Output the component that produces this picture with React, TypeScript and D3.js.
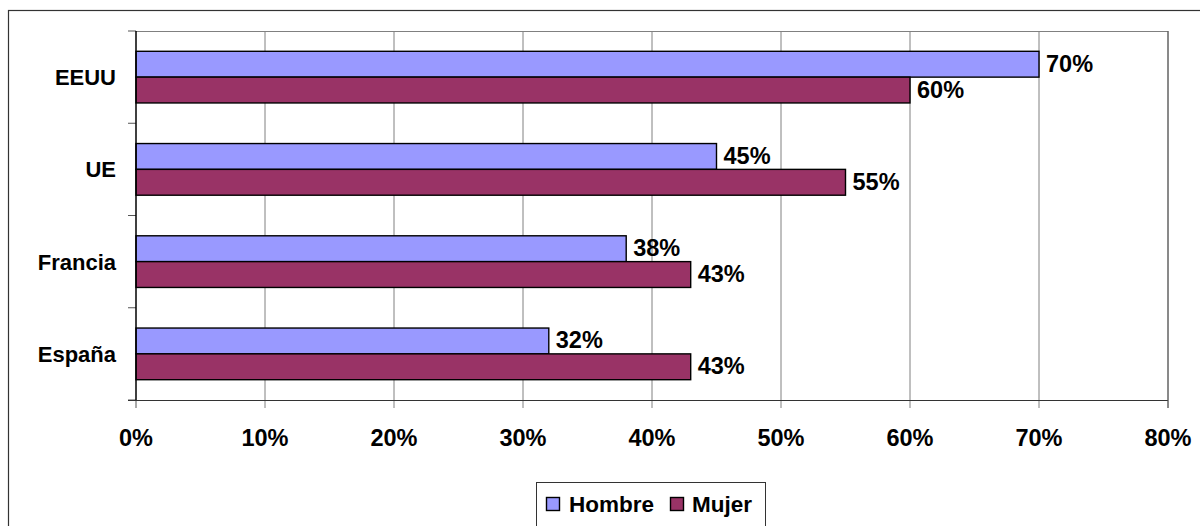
import React, { useEffect, useRef } from "react";
import * as d3 from "d3";

const categories = ["EEUU", "UE", "Francia", "España"];
const seriesNames = ["Hombre", "Mujer"];
const hombre = [70, 45, 38, 32];
const mujer = [60, 55, 43, 43];
const xTicks = [0, 10, 20, 30, 40, 50, 60, 70, 80];
const colors = ["#9999FF", "#993366"];

const W = 1200;
const H = 526;
const FONT = "'Liberation Sans', Arial, sans-serif";

export default function App() {
  const ref = useRef<SVGSVGElement>(null);
  useEffect(() => {
    const svg = d3.select(ref.current);
    svg.selectAll("*").remove();
    const left = 136, right = 1168, top = 31, bottom = 400;

    svg.append("rect").attr("x", 8.5).attr("y", 10.5).attr("width", 1200).attr("height", 600)
      .attr("fill", "#fff").attr("stroke", "#333").attr("stroke-width", 1.2);

    const x = d3.scaleLinear().domain([0, 80]).range([left, right]);
    const y = d3.scaleBand().domain(categories).range([top, bottom]).paddingInner(0.44).paddingOuter(0.22);
    const inner = d3.scaleBand().domain(seriesNames).range([0, y.bandwidth()]);
    const band = (bottom - top) / categories.length;

    const g = svg.append("g");
    xTicks.forEach((t) => {
      if (t === 0) return;
      g.append("line").attr("x1", x(t)).attr("x2", x(t)).attr("y1", top).attr("y2", bottom + 8)
        .attr("stroke", "#808080").attr("stroke-width", 1);
    });
    g.append("line").attr("x1", left).attr("x2", right).attr("y1", top + 0.5).attr("y2", top + 0.5)
      .attr("stroke", "#808080").attr("stroke-width", 1);
    for (let i = 0; i <= categories.length; i++) {
      const yy = top + i * band;
      g.append("line").attr("x1", left - 8).attr("x2", left).attr("y1", yy).attr("y2", yy)
        .attr("stroke", "#555").attr("stroke-width", 1);
    }
    g.append("line").attr("x1", left).attr("x2", left).attr("y1", bottom).attr("y2", bottom + 8)
      .attr("stroke", "#555");

    const data = [hombre, mujer];
    categories.forEach((c, ci) => {
      seriesNames.forEach((s, si) => {
        const v = data[si][ci];
        const by = (y(c) as number) + (inner(s) as number);
        const bh = inner.bandwidth();
        g.append("rect").attr("x", x(0)).attr("y", by).attr("width", x(v) - x(0)).attr("height", bh)
          .attr("fill", colors[si]).attr("stroke", "#000").attr("stroke-width", 1.4);
        g.append("text").attr("x", x(v) + 7).attr("y", by + bh / 2 + 7.5)
          .attr("font-family", FONT).attr("font-weight", "bold").attr("font-size", 23.5)
          .attr("fill", "#000").text(v + "%");
      });
      g.append("text").attr("x", 116).attr("y", (y(c) as number) + y.bandwidth() / 2 + 8)
        .attr("text-anchor", "end").attr("font-family", FONT).attr("font-weight", "bold")
        .attr("font-size", 22).attr("fill", "#000").text(c);
    });

    g.append("line").attr("x1", left).attr("x2", left).attr("y1", top).attr("y2", bottom)
      .attr("stroke", "#000").attr("stroke-width", 1.5);
    g.append("line").attr("x1", left - 8).attr("x2", right).attr("y1", bottom + 0.5).attr("y2", bottom + 0.5)
      .attr("stroke", "#333").attr("stroke-width", 1.2);
    g.append("line").attr("x1", right).attr("x2", right).attr("y1", top).attr("y2", bottom + 8)
      .attr("stroke", "#555").attr("stroke-width", 1);

    xTicks.forEach((t) => {
      g.append("text").attr("x", x(t)).attr("y", 446).attr("text-anchor", "middle")
        .attr("font-family", FONT).attr("font-weight", "bold").attr("font-size", 23.5)
        .attr("fill", "#000").text(t + "%");
    });

    const lg = svg.append("g");
    lg.append("rect").attr("x", 536.5).attr("y", 482.5).attr("width", 229).attr("height", 60)
      .attr("fill", "#fff").attr("stroke", "#333").attr("stroke-width", 1);
    const items = [
      { name: seriesNames[0], sx: 546, tx: 569 },
      { name: seriesNames[1], sx: 670, tx: 692 },
    ];
    items.forEach((it, i) => {
      lg.append("rect").attr("x", it.sx + 0.5).attr("y", 497.5).attr("width", 13).attr("height", 13)
        .attr("fill", colors[i]).attr("stroke", "#000").attr("stroke-width", 1.4);
      lg.append("text").attr("x", it.tx).attr("y", 512).attr("font-family", FONT)
        .attr("font-weight", "bold").attr("font-size", 22.5).attr("fill", "#000").text(it.name);
    });
  }, []);
  return (
    <svg ref={ref} width={W} height={H} style={{ position: "absolute", left: 0, top: 0, background: "#fff" }} />
  );
}
